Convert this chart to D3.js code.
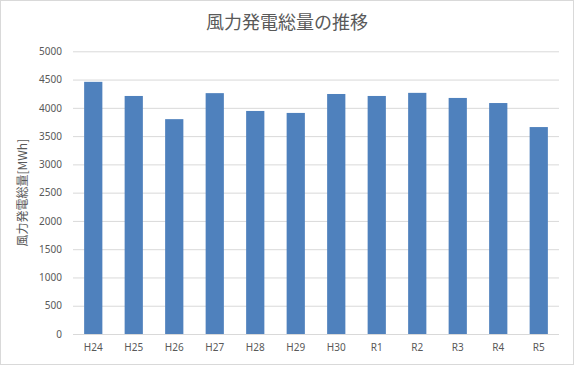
<!DOCTYPE html>
<html><head><meta charset="utf-8">
<script src="https://cdn.jsdelivr.net/npm/d3@7"></script>
<style>body{margin:0;background:#fff;} svg{display:block;}</style>
</head><body>
<script>
const categories = ["H24","H25","H26","H27","H28","H29","H30","R1","R2","R3","R4","R5"];
const values = [4460,4210,3800,4260,3945,3910,4245,4210,4265,4175,4085,3660];
const yTicks = [0,500,1000,1500,2000,2500,3000,3500,4000,4500,5000];
const titleText = "風力発電総量の推移";
const yTitle = "風力発電総量[MWh]";

const W = 574, H = 365;
const m = {left:73, right:15, top:51.3, bottom:31};
const svg = d3.select("body").append("svg").attr("width",W).attr("height",H);
svg.append("rect").attr("x",0.5).attr("y",0.5).attr("width",W-1).attr("height",H-1)
  .attr("fill","#fff").attr("stroke","#d9d9d9");

const x = d3.scaleBand().domain(categories).range([m.left, W-m.right]).paddingInner(0.55).paddingOuter(0.275);
const y = d3.scaleLinear().domain([0,5000]).range([H-m.bottom, m.top]);

const font = "'Noto Sans','Noto Sans CJK JP',sans-serif";
const gy = svg.append("g").attr("transform",`translate(${m.left},0)`)
  .call(d3.axisLeft(y).tickValues(yTicks).tickFormat(d3.format("d")).tickSize(-(W-m.right-m.left)).tickPadding(11));
gy.select(".domain").remove();
gy.selectAll(".tick line").attr("stroke","#d9d9d9");
gy.selectAll(".tick text").attr("fill","#595959").style("font-family",font).style("font-size","10px");

svg.append("g").selectAll("rect").data(values).join("rect")
  .attr("x",(d,i)=>x(categories[i])).attr("width",x.bandwidth())
  .attr("y",d=>y(d)).attr("height",d=>y(0)-y(d)).attr("fill","#4f81bd");

const gx = svg.append("g").attr("transform",`translate(0,${H-m.bottom})`)
  .call(d3.axisBottom(x).tickSize(0).tickPadding(10));
gx.select(".domain").remove();
gx.selectAll(".tick text").attr("fill","#595959").style("font-family",font).style("font-size","10px");

svg.append("text").attr("x",287).attr("y",29).attr("text-anchor","middle")
  .attr("fill","#595959").style("font-family","'Noto Sans CJK JP',sans-serif").style("font-size","18px").text(titleText);

svg.append("text").attr("transform",`translate(27,${(m.top+H-m.bottom)/2}) rotate(-90)`)
  .attr("text-anchor","middle").attr("fill","#595959")
  .style("font-family","'Noto Sans CJK JP',sans-serif").style("font-size","12px").text(yTitle);
</script>
</body></html>
